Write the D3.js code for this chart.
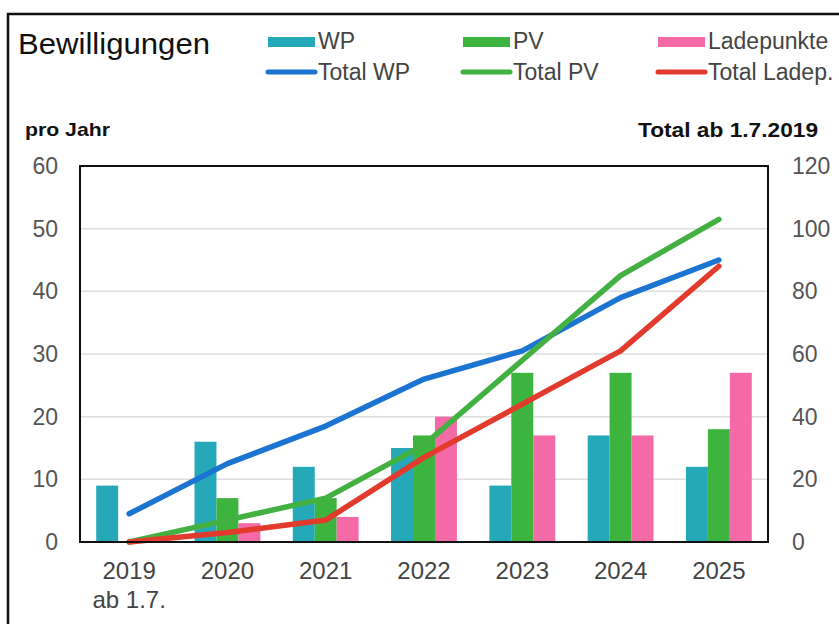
<!DOCTYPE html>
<html lang="de">
<head>
<meta charset="UTF-8">
<title>Bewilligungen</title>
<script src="https://d3js.org/d3.v7.min.js"></script>
<style>
  body { margin: 0; background: #fff; font-family: "Liberation Sans", Arial, sans-serif; }
  svg { display: block; }
</style>
</head>
<body>
<svg id="chart" width="839" height="624"></svg>
<script>
// data
const years = ["2019", "2020", "2021", "2022", "2023", "2024", "2025"];
const yearSub = ["ab 1.7.", "", "", "", "", "", ""];
const wp = [9, 16, 12, 15, 9, 17, 12];
const pv = [0, 7, 7, 17, 27, 27, 18];
const lade = [0, 3, 4, 20, 17, 17, 27];
const totalWp = [9, 25, 37, 52, 61, 78, 90];
const totalPv = [0, 7, 14, 31, 58, 85, 103];
const totalLade = [0, 3, 7, 27, 44, 61, 88];
const leftTicks = [0, 10, 20, 30, 40, 50, 60];
const rightTicks = [0, 20, 40, 60, 80, 100, 120];

const barSeries = [
  { name: "WP", values: wp, color: "#25a8b8" },
  { name: "PV", values: pv, color: "#3db43d" },
  { name: "Ladepunkte", values: lade, color: "#f46aa7" }
];
const lineSeries = [
  { name: "Total WP", values: totalWp, color: "#1b74d1" },
  { name: "Total PV", values: totalPv, color: "#42b142" },
  { name: "Total Ladep.", values: totalLade, color: "#e23a2c" }
];

const svg = d3.select("#chart");
const plot = { left: 80, right: 768, top: 166, bottom: 542 };

// outer frame of the scanned box
svg.append("path")
  .attr("d", "M8,640 L8,14 L845,14")
  .attr("fill", "none")
  .attr("stroke", "#111")
  .attr("stroke-width", 2.5);

const x = d3.scaleBand()
  .domain(years)
  .range([plot.left, plot.right])
  .paddingInner(0.33)
  .paddingOuter(0.165);

const xInner = d3.scaleBand()
  .domain(barSeries.map(d => d.name))
  .range([0, x.bandwidth()]);

const yLeft = d3.scaleLinear().domain([0, 60]).range([plot.bottom, plot.top]);
const yRight = d3.scaleLinear().domain([0, 120]).range([plot.bottom, plot.top]);

// gridlines
svg.append("g")
  .selectAll("line")
  .data(leftTicks.filter(t => t > 0 && t < 60))
  .enter().append("line")
  .attr("x1", plot.left)
  .attr("x2", plot.right)
  .attr("y1", d => yLeft(d))
  .attr("y2", d => yLeft(d))
  .attr("stroke", "#dedede")
  .attr("stroke-width", 1.5);

// bars
barSeries.forEach(s => {
  svg.append("g")
    .selectAll("rect")
    .data(s.values)
    .enter().append("rect")
    .attr("x", (d, i) => x(years[i]) + xInner(s.name))
    .attr("y", d => yLeft(d))
    .attr("width", xInner.bandwidth())
    .attr("height", d => plot.bottom - yLeft(d))
    .attr("fill", s.color);
});

// cumulative lines
const line = d3.line()
  .x((d, i) => x(years[i]) + x.bandwidth() / 2)
  .y(d => yRight(d));

lineSeries.forEach(s => {
  svg.append("path")
    .datum(s.values)
    .attr("d", line)
    .attr("fill", "none")
    .attr("stroke", s.color)
    .attr("stroke-width", 5.5)
    .attr("stroke-linecap", "round")
    .attr("stroke-linejoin", "round");
});

// plot frame
svg.append("rect")
  .attr("x", plot.left)
  .attr("y", plot.top)
  .attr("width", plot.right - plot.left)
  .attr("height", plot.bottom - plot.top)
  .attr("fill", "none")
  .attr("stroke", "#111")
  .attr("stroke-width", 2);

// axes
const axisLeft = svg.append("g")
  .attr("transform", `translate(${plot.left},0)`)
  .call(d3.axisLeft(yLeft).tickValues(leftTicks).tickSize(0).tickPadding(22));
const axisRight = svg.append("g")
  .attr("transform", `translate(${plot.right},0)`)
  .call(d3.axisRight(yRight).tickValues(rightTicks).tickSize(0).tickPadding(24));
[axisLeft, axisRight].forEach(a => {
  a.select(".domain").remove();
  a.selectAll("text")
    .attr("font-family", "'Liberation Sans', Arial, sans-serif")
    .attr("font-size", 23)
    .attr("fill", "#555");
});

const axisBottom = svg.append("g")
  .attr("transform", `translate(0,${plot.bottom})`)
  .call(d3.axisBottom(x).tickSize(0).tickPadding(20));
axisBottom.select(".domain").remove();
axisBottom.selectAll("text")
  .attr("font-family", "'Liberation Sans', Arial, sans-serif")
  .attr("font-size", 24)
  .attr("fill", "#444");

svg.append("g")
  .selectAll("text")
  .data(yearSub)
  .enter().append("text")
  .attr("x", (d, i) => x(years[i]) + x.bandwidth() / 2)
  .attr("y", 608)
  .attr("text-anchor", "middle")
  .attr("font-size", 24)
  .attr("fill", "#444")
  .text(d => d);

// header texts
svg.append("text")
  .attr("x", 18).attr("y", 54)
  .attr("font-size", 30)
  .attr("textLength", 192)
  .attr("lengthAdjust", "spacingAndGlyphs")
  .attr("fill", "#111")
  .text("Bewilligungen");

svg.append("text")
  .attr("x", 25).attr("y", 136)
  .attr("font-size", 19)
  .attr("font-weight", "bold")
  .attr("textLength", 85)
  .attr("lengthAdjust", "spacingAndGlyphs")
  .attr("fill", "#111")
  .text("pro Jahr");

svg.append("text")
  .attr("x", 638).attr("y", 137)
  .attr("font-size", 20)
  .attr("font-weight", "bold")
  .attr("textLength", 180)
  .attr("lengthAdjust", "spacingAndGlyphs")
  .attr("fill", "#111")
  .text("Total ab 1.7.2019");

// legend
const legendX = [268, 463, 658];
barSeries.forEach((s, i) => {
  svg.append("rect")
    .attr("x", legendX[i]).attr("y", 37)
    .attr("width", 47).attr("height", 10)
    .attr("fill", s.color);
  svg.append("text")
    .attr("x", legendX[i] + 50).attr("y", 49)
    .attr("font-size", 23)
    .attr("fill", "#444")
    .text(s.name);
});
lineSeries.forEach((s, i) => {
  svg.append("line")
    .attr("x1", legendX[i]).attr("x2", legendX[i] + 47)
    .attr("y1", 72).attr("y2", 72)
    .attr("stroke", s.color)
    .attr("stroke-width", 5)
    .attr("stroke-linecap", "round");
  svg.append("text")
    .attr("x", legendX[i] + 50).attr("y", 80)
    .attr("font-size", 23)
    .attr("fill", "#444")
    .text(s.name);
});
</script>
</body>
</html>
